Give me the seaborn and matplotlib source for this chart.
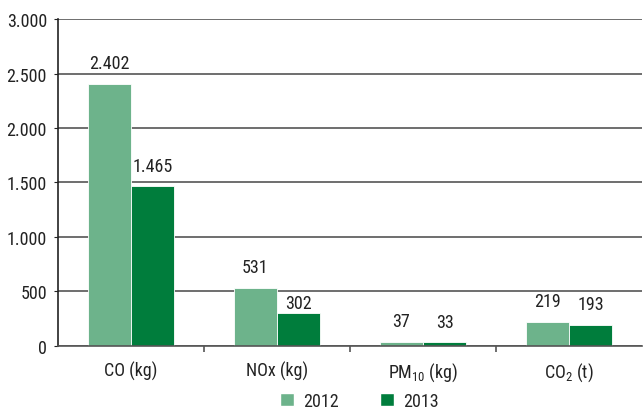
import numpy as np
import pandas as pd
import matplotlib
matplotlib.use("Agg")
import matplotlib.pyplot as plt
import seaborn as sns
from matplotlib.patches import Patch
from matplotlib import font_manager

# Data
categories = ["CO (kg)", "NOx (kg)", "PM$_{10}$ (kg)", "CO$_{2}$ (t)"]
years      = ["2012", "2013"]
vals_2012  = [2402, 531, 37, 219]
vals_2013  = [1465, 302, 33, 193]

PALETTE = {"2012": "#6db38b", "2013": "#007d3c"}

# Prefer a narrow face, fall back to Liberation Sans
installed = {f.name for f in font_manager.fontManager.ttflist}
narrow    = [n for n in ["Liberation Sans Narrow", "Roboto Condensed", "Open Sans Condensed",
                         "DejaVu Sans Condensed"] if n in installed]
FONT      = (narrow[:1] or ["Liberation Sans"]) + ["DejaVu Sans"]

sns.set_style("white")
plt.rcParams["font.family"]      = FONT
plt.rcParams["mathtext.fontset"] = "custom"
plt.rcParams["mathtext.rm"]      = FONT[0]
plt.rcParams["mathtext.it"]      = FONT[0]

SIZE = 13 if narrow else 11.5

df = pd.DataFrame({
    "cat":   categories * 2,
    "year":  [years[0]] * 4 + [years[1]] * 4,
    "value": vals_2012 + vals_2013,
})

fig = plt.figure(figsize=(6.43, 4.10), dpi=100)
ax  = fig.add_axes([0.0902, 0.1537, 0.9082, 0.7975])

sns.barplot(data=df, x="cat", y="value", hue="year", order=categories, hue_order=years,
            palette=PALETTE, width=0.59, gap=0, edgecolor="white", linewidth=0.6,
            saturation=1, ax=ax, legend=False)

# Value labels with dot as thousands separator
all_anns = []
for cont in ax.containers:
    anns = ax.bar_label(cont, labels=[f"{int(v):,}".replace(",", ".") for v in cont.datavalues],
                        padding=8.5, fontsize=SIZE, color="#222222")
    all_anns.append(anns)

# The 2013 NOx label sits just under the 500 gridline in the original
all_anns[1][1].xyann = (0, 0.8)

# Axes & grid
ax.set_ylim(0, 3000)
ax.set_xlim(-0.5, 3.5)
ax.set_yticks(np.arange(0, 3001, 500))
ax.set_yticklabels([f"{int(t):,}".replace(",", ".") for t in np.arange(0, 3001, 500)])
ax.yaxis.grid(True, color="#555555", linewidth=1.2)
ax.set_axisbelow(True)
ax.set_xlabel(""); ax.set_ylabel("")

for s in ["top", "right"]:
    ax.spines[s].set_visible(False)
ax.spines["left"].set_color("#222222")
ax.spines["bottom"].set_color("#555555")
ax.spines["left"].set_linewidth(1.2)
ax.spines["bottom"].set_linewidth(1.2)

ax.tick_params(axis="y", left=True, length=3, color="#222222", labelsize=SIZE, pad=5,
               labelcolor="#222222")
ax.tick_params(axis="x", bottom=False, labelsize=SIZE, pad=7, labelcolor="#222222")
ax.set_xticks([0.5, 1.5, 2.5], minor=True)
ax.tick_params(axis="x", which="minor", bottom=True, length=4, color="#555555", width=1.2)

# Legend at the bottom
handles = [Patch(facecolor=PALETTE[y], label=y) for y in years]
fig.legend(handles=handles, loc="center", bbox_to_anchor=(0.559, 0.02), ncol=2,
           frameon=False, fontsize=SIZE, handlelength=0.75, handleheight=0.75,
           columnspacing=2.3, handletextpad=0.5, borderpad=0)

fig.savefig("out.png", dpi=100)
